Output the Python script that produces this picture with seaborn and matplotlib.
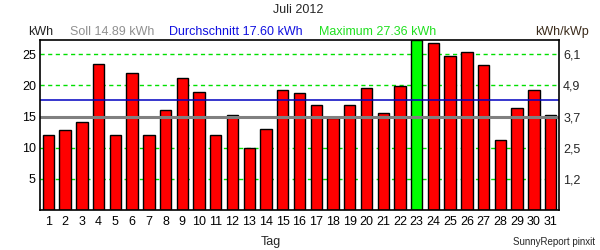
import matplotlib
matplotlib.use("Agg")
import matplotlib.pyplot as plt
import seaborn as sns
import pandas as pd

days = [str(d) for d in range(1, 32)]
energy = [12.1, 12.8, 14.2, 23.4, 12.1, 22.0, 12.1, 16.0, 21.2, 18.9,
          12.1, 15.2, 9.9, 12.95, 19.2, 18.75, 16.8, 14.7, 16.8, 19.55,
          15.5, 19.9, 27.36, 26.8, 24.7, 25.35, 23.3, 11.3, 16.3, 19.2, 15.2]
soll = 14.89
average = 17.60
maximum = 27.36
left_ticks = [5, 10, 15, 20, 25]
right_labels = ["1,2", "2,5", "3,7", "4,9", "6,1"]

sns.set_style("white")
plt.rcParams['font.family'] = ['Liberation Sans', 'DejaVu Sans']

df = pd.DataFrame({"Tag": days, "kWh": energy,
                   "kind": ["max" if v == maximum else "normal" for v in energy]})

fig = plt.figure(figsize=(6, 2.5), dpi=100)
ax = fig.add_axes([40/600, 1-210/250, 519/600, 170/250])

for y in left_ticks:
    ax.axhline(y, color="#00E000", lw=1, ls=(0, (3, 2.5)), zorder=0)

sns.barplot(data=df, x="Tag", y="kWh", hue="kind",
            palette={"normal": "#FF0000", "max": "#00FF00"},
            saturation=1, edgecolor="black", linewidth=1, width=0.68,
            legend=False, dodge=False, ax=ax, zorder=2)

ax.axhline(average, color="#0000C0", lw=1.1, zorder=3)
ax.axhline(soll, color="#808080", lw=2.2, zorder=3)

ax.set_xlim(-0.5, 30.5)
ax.set_ylim(0, 27.3)
ax.set_yticks(left_ticks)
ax.set_xlabel("")
ax.set_ylabel("")
ax.tick_params(axis="both", labelsize=9, length=0, colors="black")
ax.tick_params(axis="y", pad=3)
ax.tick_params(axis="x", pad=4)
for s in ax.spines.values():
    s.set_color("black")
    s.set_linewidth(1.2)
    s.set_zorder(5)

ax2 = ax.twinx()
ax2.set_ylim(ax.get_ylim())
ax2.set_yticks(left_ticks, right_labels)
ax2.tick_params(axis="y", labelsize=9, length=0, pad=3)
for s in ax2.spines.values():
    s.set_visible(False)

fs = 9
fig.text(298/600, 1-10/250, "Juli 2012", ha="center", va="center", fontsize=fs)
fig.text(28/600, 1-32/250, "kWh", ha="left", va="center", fontsize=fs, color="#222222")
fig.text(70/600, 1-32/250, "Soll 14.89 kWh", ha="left", va="center", fontsize=fs, color="#909090")
fig.text(169/600, 1-32/250, "Durchschnitt 17.60 kWh", ha="left", va="center", fontsize=fs, color="#1010E0")
fig.text(319/600, 1-32/250, "Maximum 27.36 kWh", ha="left", va="center", fontsize=fs, color="#20E020")
fig.text(589/600, 1-32/250, "kWh/kWp", ha="right", va="center", fontsize=fs, color="#3a2a1a")
fig.text(271/600, 1-242/250, "Tag", ha="center", va="center", fontsize=fs)
fig.text(595/600, 1-242/250, "SunnyReport pinxit", ha="right", va="center", fontsize=7)

fig.savefig("out.png", dpi=100)
